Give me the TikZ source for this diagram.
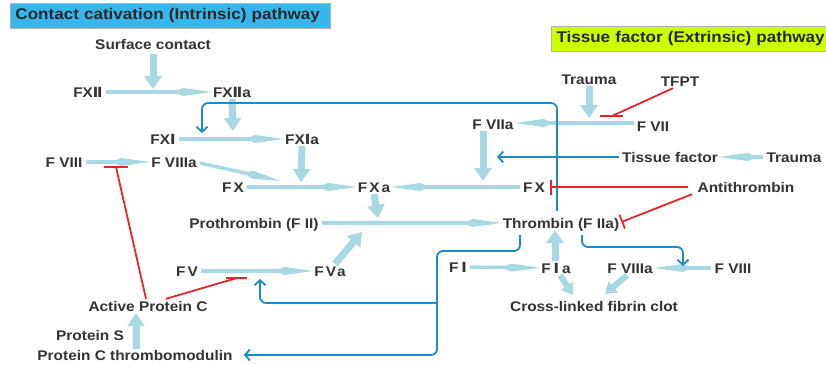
\documentclass[tikz,border=0pt]{standalone}
\usepackage{fontspec}
\setmainfont[FakeStretch=1.1]{Liberation Sans}
\newfontfamily\dvfont[FakeStretch=1.05]{DejaVu Sans}
\usetikzlibrary{arrows.meta}
\definecolor{txt}{HTML}{333333}
\definecolor{lb}{HTML}{A8D8E2}
\definecolor{bl}{HTML}{1A8CCB}
\definecolor{rd}{HTML}{E8262A}
\definecolor{hb}{HTML}{35B7EC}
\definecolor{hy}{HTML}{CCFF00}
\newcommand\rmii{{\dvfont\bfseries Ⅱ}}
\newcommand\rmi{{\dvfont\bfseries Ⅰ}}
\begin{document}
\begin{tikzpicture}[x=1pt,y=-1pt,
  lbl/.style={font=\bfseries\fontsize{14}{16}\selectfont, text=txt, inner xsep=3pt, inner ysep=2pt, text height=10pt, text depth=0pt},
  hdr/.style={font=\bfseries\fontsize{15.5}{17}\selectfont, text=black!85, anchor=west, draw=gray!60, line width=1pt, minimum height=25pt, inner xsep=5pt, align=left},
  fl/.style={draw=lb, line width=3.5pt, shorten >=-2pt, -{Kite[length=38pt,width=8pt,inset=9pt]}},
  dn/.style={draw=lb, line width=7pt, -{Triangle[length=13pt,width=17pt]}},
  dns/.style={draw=lb, line width=6pt, -{Triangle[length=11pt,width=14pt]}},
  blu/.style={draw=bl, line width=1.8pt, rounded corners=6pt, -{Straight Barb[length=5pt,width=11pt]}},
  rl/.style={draw=rd, line width=1.8pt},
  rlb/.style={draw=rd, line width=1.8pt, -{Bar[width=15pt,line width=1.8pt]}}]
\useasboundingbox (0,0) rectangle (826,364);
\fill[white] (0,0) rectangle (826,364);
% headers
\node[hdr, fill=hb, text width=310pt] (h1) at (10,15.5) {Contact cativation (Intrinsic) pathway};
\node[hdr, fill=hy, text width=275pt] (h2) at (551,38.5) {Tissue factor (Extrinsic) pathway};
% labels
\node[lbl] (sc) at (153,44) {Surface contact};
\node[lbl] (fxii) at (88,92) {FX\rmii};
\node[lbl] (fxiia) at (232,92) {FX\rmii a};
\node[lbl] (fxi) at (163,139) {FX\rmi};
\node[lbl] (fxia) at (302,139) {FX\rmi a};
\node[lbl] (fviii) at (64,162) {F VIII};
\node[lbl] (fviiia) at (174,162) {F VIIIa};
\node[lbl] (fx) at (233,187) {F\kern2pt X};
\node[lbl] (fxa) at (374,187) {F\kern2pt X\kern2pt a};
\node[lbl] (fx2) at (534,187) {F\kern2pt X};
\node[lbl] (anti) at (746,187) {Antithrombin};
\node[lbl] (pro) at (254,223) {Prothrombin (F II)};
\node[lbl] (thr) at (561,223) {Thrombin (F IIa)};
\node[lbl] (fv) at (187,271) {F\kern2pt V};
\node[lbl] (fva) at (330,271) {F\kern2pt V\kern1pt a};
\node[lbl] (apc) at (148,306) {Active Protein C};
\node[lbl] (ps) at (90,335) {Protein S};
\node[lbl] (pctm) at (135,355) {Protein C thrombomodulin};
\node[lbl] (tr1) at (589,79) {Trauma};
\node[lbl] (tfpt) at (680,81) {TFPT};
\node[lbl] (fviia) at (493,124) {F VIIa};
\node[lbl] (fvii) at (653,126) {F VII};
\node[lbl] (tf) at (670,157) {Tissue factor};
\node[lbl] (tr2) at (794,157) {Trauma};
\node[lbl] (fi) at (458,267) {F\kern3pt\rmi};
\node[lbl] (fia) at (556,268) {F\kern3pt\rmi\kern3pt a};
\node[lbl] (fviiia2) at (630,268) {F VIIIa};
\node[lbl] (fviii2) at (733,268) {F VIII};
\node[lbl] (clot) at (594,306) {Cross-linked fibrin clot};
% junction coordinates
\coordinate (j1) at (153,89);
\coordinate (j2) at (233,131);
\coordinate (j3) at (301,182);
\coordinate (j4) at (281,181);
\coordinate (j5) at (378,218);
\coordinate (j6) at (362,232);
\coordinate (j7) at (589,118);
\coordinate (j8) at (483,181);
\coordinate (c1) at (573,295);
\coordinate (c2) at (605,294);
\coordinate (p1) at (136,349);
% light blue arrows
\draw[dn, shorten <=3pt] (sc) -- (j1);
\draw[fl] (fxii) -- (fxiia);
\draw[dn] (fxiia.south) -- (j2);
\draw[fl] (fxi) -- (fxia);
\draw[dn] (fxia.south) -- (j3);
\draw[fl] (fviii) -- (fviiia);
\draw[fl, shorten >=0pt] ([yshift=-1pt]fviiia.east) -- (j4);
\draw[fl] (fx) -- (fxa);
\draw[fl] (fx2) -- (fxa);
\draw[dn] (fxa.south) -- (j5);
\draw[fl] (pro) -- (thr);
\draw[fl] (fv) -- (fva);
\draw[dn] ([xshift=5pt]fva.north) -- (j6);
\draw[dn] (p1) -- (apc.south -| p1);
\draw[dn] (tr1.south) -- (j7);
\draw[fl] ([yshift=3pt]fvii.west) -- ([yshift=1pt]fviia.east);
\draw[dn] ([xshift=-10pt]fviia.south) -- (j8);
\draw[fl] (tr2) -- (tf);
\draw[fl] (fi) -- (fia);
\draw[dn] ([xshift=-1pt]fia.north) -- ([xshift=-6pt]thr.south);
\draw[fl] (fviii2) -- (fviiia2);
\draw[dns] ([xshift=4pt]fia.south) -- (c1);
\draw[dns] ([xshift=-3pt]fviiia2.south) -- (c2);
% blue feedback lines
\coordinate (b1top) at (202,103);
\coordinate (b1) at (202,133);
\draw[blu, shorten <=5pt] ([xshift=-4pt]thr.north) |- (b1top) -- (b1);
\coordinate (tfend) at (497,157);
\draw[blu] (tf.west) -- (tfend);
\coordinate (b3a) at (437,251);
\coordinate (b3b) at (437,303);
\coordinate (b3c) at (260,279);
\draw[blu, shorten <=5pt, shorten >=8pt] ([xshift=-41pt]thr.south) |- (b3a) |- (pctm.east);
\draw[blu] (b3b) -| (b3c);
\coordinate (b4t) at (683,247);
\coordinate (b4) at (683,266);
\draw[blu, shorten <=5pt] ([xshift=21pt]thr.south) |- (b4t) -- (b4);
% red inhibition lines
\coordinate (r1) at (116,167);
\draw[rl] ([xshift=-2pt]apc.north) -- (r1);
\draw[rl] ([xshift=-12pt]r1) -- ([xshift=12pt]r1);
\coordinate (r2) at (237,278);
\draw[rl] ([xshift=18pt]apc.north) -- (r2);
\draw[rl] ([xshift=-11pt]r2) -- ([xshift=10pt]r2);
\draw[rlb] ([xshift=-6pt]anti.west) -- ([xshift=2pt]fx2.east);
\draw[rlb] ([xshift=-54pt]anti.south) -- ([xshift=-1pt,yshift=1pt]thr.east);
\coordinate (r5) at (612,116);
\draw[rl] ([xshift=-7pt]tfpt.south) -- (r5);
\draw[rl] ([xshift=-12pt]r5) -- ([xshift=11pt]r5);
\end{tikzpicture}
\end{document}
